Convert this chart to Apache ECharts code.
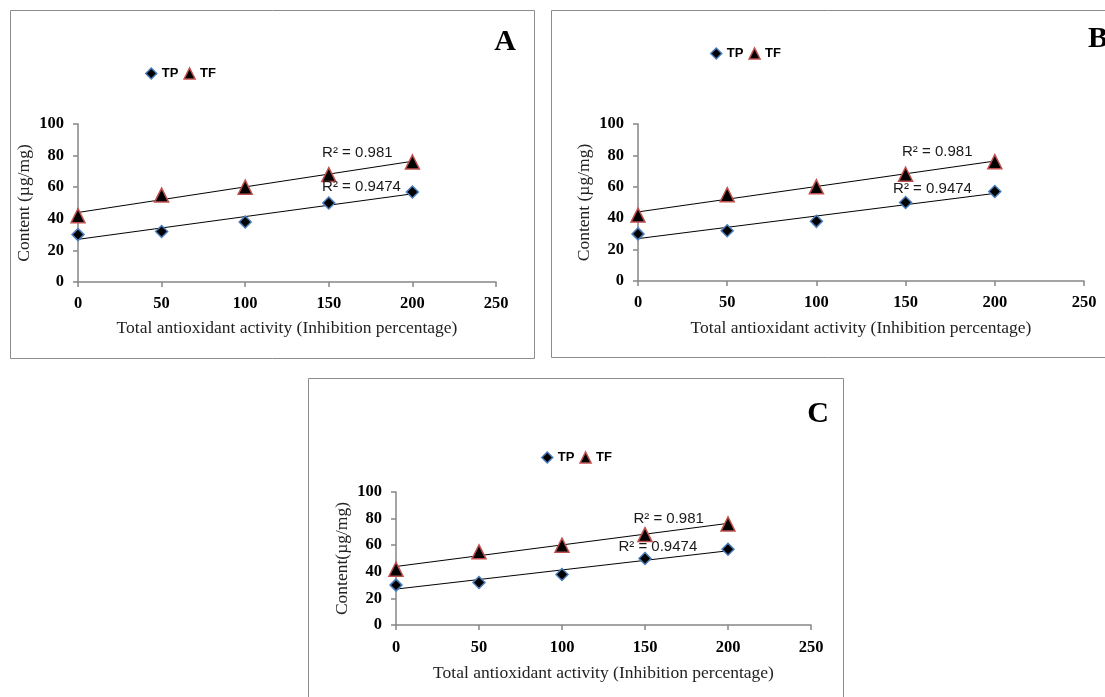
<!DOCTYPE html>
<html>
<head>
<meta charset="utf-8">
<script src="https://cdn.jsdelivr.net/npm/echarts@6/dist/echarts.min.js"></script>
<style>
  html, body { margin: 0; padding: 0; background: #fff; }
  #diagram { width: 1105px; height: 697px; }
</style>
</head>
<body>
<div id="diagram"></div>
<script>
// measured values (same in all three panels)
var activity = [0, 50, 100, 150, 200];
var tpContent = [30, 32, 38, 50, 57];
var tfContent = [42, 55, 60, 68, 76];
var xRange = [0, 250, 50];
var yRange = [0, 100, 20];

// panel layout, pixels; r2 label anchors in data units
var panels = [
  { letter: "A", box: [10, 10, 524, 348], letterAt: [505, 42],
    grid: { left: 78, top: 124, width: 418, height: 158 }, legendAt: [140, 62], xGap: 37, xMargin: 13,
    yName: "Content (\u00b5g/mg)", tfLabel: [146, 81.6], tpLabel: [146, 60.1] },
  { letter: "B", box: [551, 10, 600, 347], letterAt: [1098, 39],
    grid: { left: 638, top: 124, width: 446, height: 157 }, legendAt: [705, 42], xGap: 38, xMargin: 13,
    yName: "Content (\u00b5g/mg)", tfLabel: [148, 82], tpLabel: [143, 59] },
  { letter: "C", box: [308, 378, 535, 400], letterAt: [818, 414],
    grid: { left: 396, top: 492, width: 415, height: 133 }, legendAt: [536, 446], xGap: 39, xMargin: 14,
    yName: "Content(\u00b5g/mg)", tfLabel: [143, 79.7], tpLabel: [134, 58.6] }
];

var axisGrey = "#868686";
var serif = "Liberation Serif";
var sans = "Liberation Sans";

// least squares line, like the spreadsheet trendline
function fit(xs, ys) {
  var n = xs.length, mx = 0, my = 0;
  for (var i = 0; i < n; i++) { mx += xs[i] / n; my += ys[i] / n; }
  var sxy = 0, sxx = 0, syy = 0;
  for (var j = 0; j < n; j++) {
    sxy += (xs[j] - mx) * (ys[j] - my);
    sxx += (xs[j] - mx) * (xs[j] - mx);
    syy += (ys[j] - my) * (ys[j] - my);
  }
  var slope = sxy / sxx;
  return { slope: slope, intercept: my - slope * mx, r2: (sxy * sxy) / (sxx * syy) };
}

function pairs(xs, ys) {
  return xs.map(function (x, i) { return [x, ys[i]]; });
}

var tpFit = fit(activity, tpContent);
var tfFit = fit(activity, tfContent);

function trend(f) {
  var x0 = activity[0], x1 = activity[activity.length - 1];
  return [[x0, f.intercept + f.slope * x0], [x1, f.intercept + f.slope * x1]];
}

var tpStyle = { color: "#000", borderColor: "#4a7ebb", borderWidth: 1.5, opacity: 1 };
var tfStyle = { color: "#000", borderColor: "#c0504d", borderWidth: 1.5, opacity: 1 };

var grids = [], xAxes = [], yAxes = [], legends = [], series = [], graphics = [];

panels.forEach(function (p, i) {
  grids.push(p.grid);

  xAxes.push({
    type: "value", gridIndex: i, min: xRange[0], max: xRange[1], interval: xRange[2],
    name: "Total antioxidant activity (Inhibition percentage)",
    nameLocation: "middle", nameGap: p.xGap,
    nameTextStyle: { fontFamily: serif, fontSize: 17.5, color: "#222" },
    axisLine: { lineStyle: { color: axisGrey, width: 1.5 } },
    axisTick: { length: 5, lineStyle: { color: axisGrey, width: 1.5 } },
    axisLabel: { fontFamily: serif, fontWeight: "bold", fontSize: 16.5, color: "#000", margin: p.xMargin },
    splitLine: { show: false }
  });

  yAxes.push({
    type: "value", gridIndex: i, min: yRange[0], max: yRange[1], interval: yRange[2],
    name: p.yName, nameLocation: "middle", nameGap: 45,
    nameTextStyle: { fontFamily: serif, fontSize: 17.5, color: "#222" },
    axisLine: { show: true, lineStyle: { color: axisGrey, width: 1.5 } },
    axisTick: { show: true, length: 5, lineStyle: { color: axisGrey, width: 1.5 } },
    axisLabel: { fontFamily: serif, fontWeight: "bold", fontSize: 16.5, color: "#000", margin: 14 },
    splitLine: { show: false }
  });

  legends.push({
    left: p.legendAt[0], top: p.legendAt[1], orient: "horizontal",
    itemWidth: 11, itemHeight: 11, itemGap: 5, selectedMode: false,
    textStyle: { fontFamily: sans, fontWeight: "bold", fontSize: 13, color: "#000" },
    data: [
      { name: "TP", icon: "diamond", itemStyle: tpStyle },
      { name: "TF", icon: "triangle", itemStyle: tfStyle }
    ]
  });

  series.push({
    name: "TP", type: "scatter", xAxisIndex: i, yAxisIndex: i, z: 4, clip: false,
    symbol: "diamond", symbolSize: 12, itemStyle: tpStyle,
    data: pairs(activity, tpContent)
  });
  series.push({
    name: "TF", type: "scatter", xAxisIndex: i, yAxisIndex: i, z: 4, clip: false,
    symbol: "triangle", symbolSize: 14, itemStyle: tfStyle,
    data: pairs(activity, tfContent)
  });

  [[tpFit, p.tpLabel], [tfFit, p.tfLabel]].forEach(function (t) {
    series.push({
      name: "trend", type: "line", xAxisIndex: i, yAxisIndex: i, z: 3,
      symbol: "none", silent: true,
      lineStyle: { color: "#000", width: 1 },
      data: trend(t[0]),
      markPoint: {
        symbol: "circle", symbolSize: 0, silent: true,
        label: {
          show: true, position: "right", distance: 0,
          fontFamily: sans, fontSize: 15, color: "#1a1a1a",
          formatter: "R\u00b2 = " + Number(t[0].r2.toFixed(4))
        },
        data: [{ coord: t[1] }]
      }
    });
  });

  graphics.push({
    type: "rect", silent: true, z: 0,
    shape: { x: p.box[0] + 0.5, y: p.box[1] + 0.5, width: p.box[2], height: p.box[3] },
    style: { fill: null, stroke: "#8c8c8c", lineWidth: 1 }
  });
  graphics.push({
    type: "text", silent: true, x: p.letterAt[0], y: p.letterAt[1],
    style: {
      text: p.letter, fontFamily: serif, fontWeight: "bold", fontSize: 30, fill: "#000",
      align: "center", verticalAlign: "middle"
    }
  });
});

var myChart = echarts.init(document.getElementById("diagram"));
myChart.setOption({
  animation: false,
  grid: grids,
  xAxis: xAxes,
  yAxis: yAxes,
  legend: legends,
  series: series,
  graphic: graphics
});
</script>
</body>
</html>
